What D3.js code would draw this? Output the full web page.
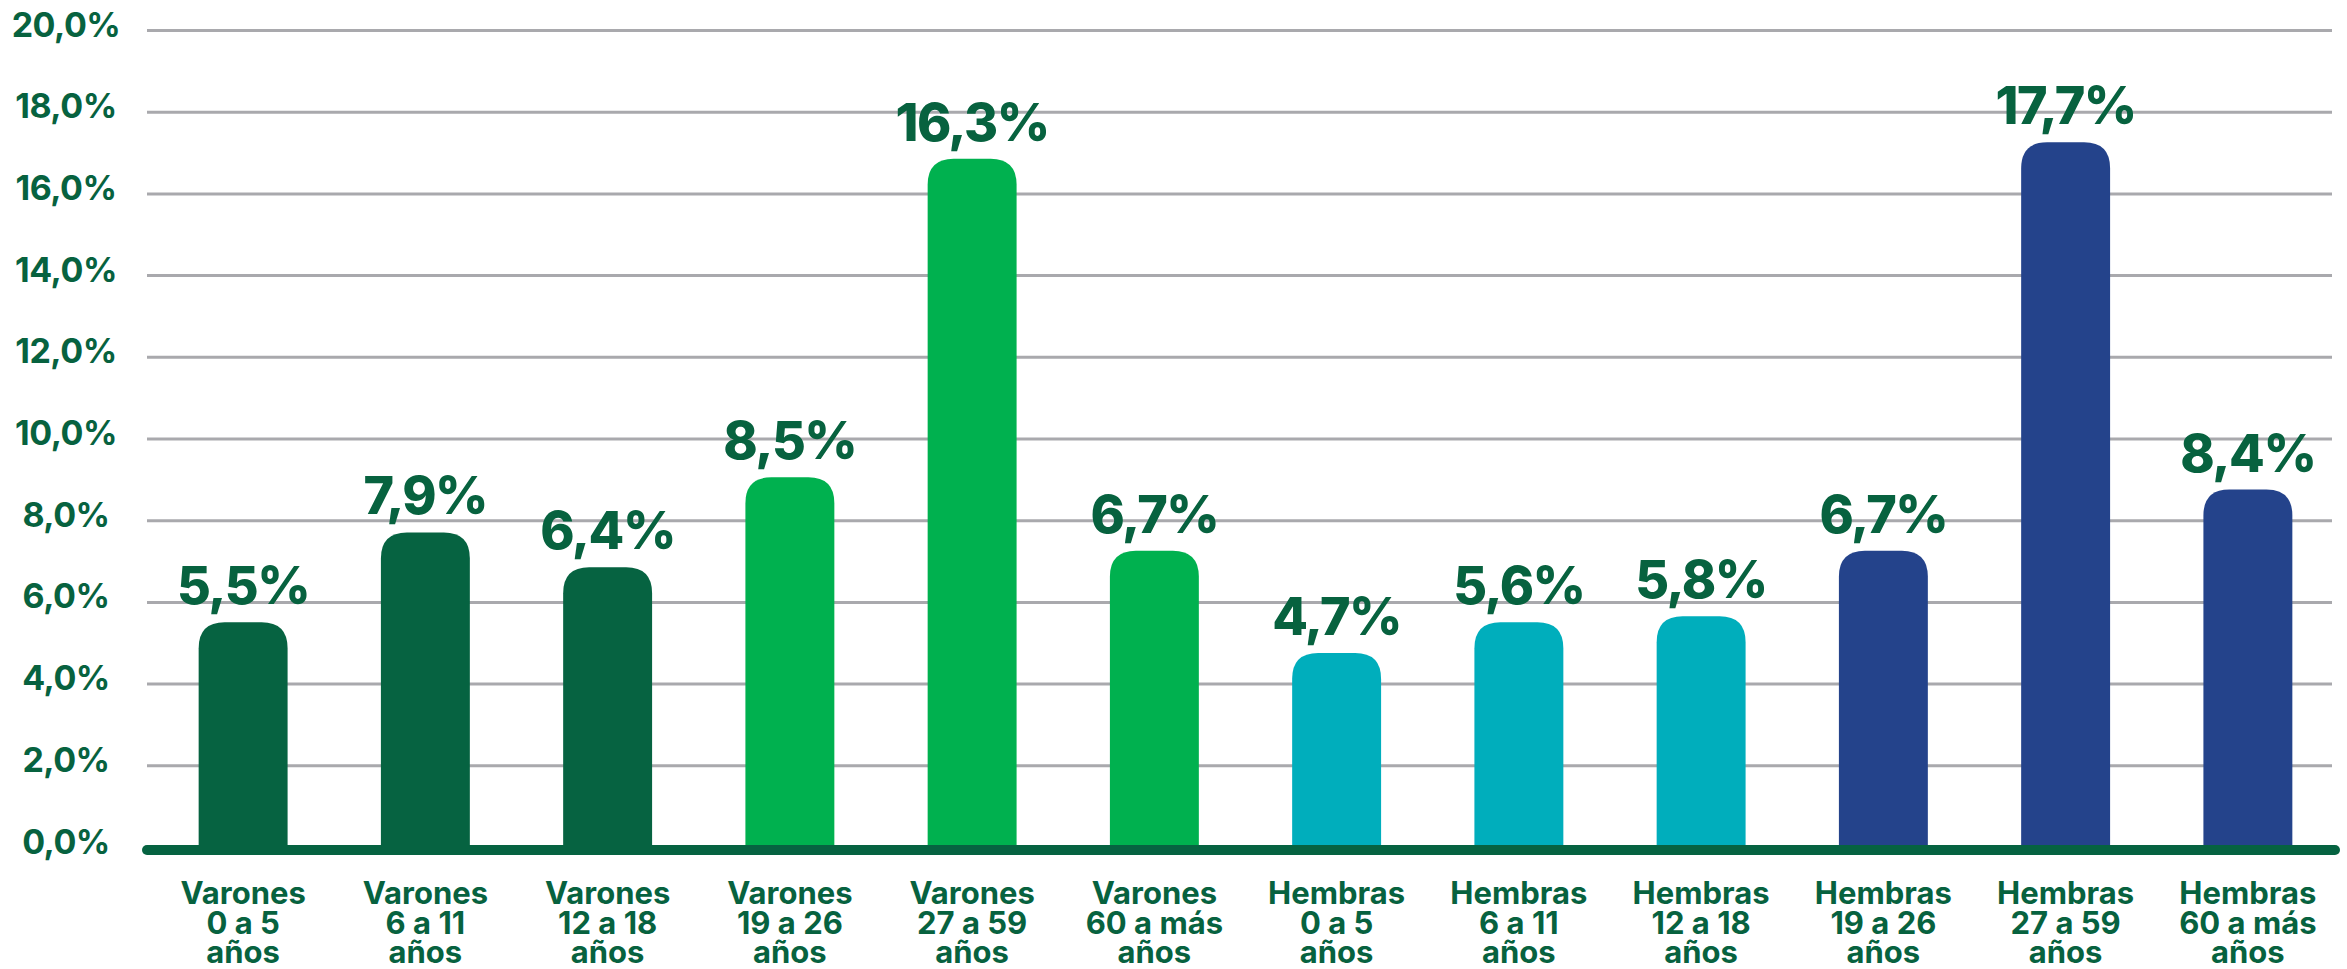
<!DOCTYPE html>
<html>
<head>
<meta charset="utf-8">
<script src="https://cdn.jsdelivr.net/npm/d3@7"></script>
<style>
  html, body { margin: 0; padding: 0; background: #fff; }
  svg { display: block; }
  text { font-family: Inter, "Open Sans", sans-serif; fill: #07623f; }
</style>
</head>
<body>
<svg width="2347" height="969"></svg>
<script>
// categorias (3 lineas cada una)
var categories = [
  ["Varones", "0 a 5", "años"],
  ["Varones", "6 a 11", "años"],
  ["Varones", "12 a 18", "años"],
  ["Varones", "19 a 26", "años"],
  ["Varones", "27 a 59", "años"],
  ["Varones", "60 a más", "años"],
  ["Hembras", "0 a 5", "años"],
  ["Hembras", "6 a 11", "años"],
  ["Hembras", "12 a 18", "años"],
  ["Hembras", "19 a 26", "años"],
  ["Hembras", "27 a 59", "años"],
  ["Hembras", "60 a más", "años"]
];
// altura de cada barra tal como esta dibujada
var barValues = [5.5, 7.7, 6.85, 9.05, 16.85, 7.25, 4.75, 5.5, 5.65, 7.25, 17.25, 8.75];
// etiquetas impresas encima de las barras
var labelValues = [5.5, 7.9, 6.4, 8.5, 16.3, 6.7, 4.7, 5.6, 5.8, 6.7, 17.7, 8.4];
var groups = ["v1", "v1", "v1", "v2", "v2", "v2", "h1", "h1", "h1", "h2", "h2", "h2"];
var groupColors = ["#066341", "#00b14f", "#00aebc", "#24438b"];
var yTicks = [0, 2, 4, 6, 8, 10, 12, 14, 16, 18, 20];

var svg = d3.select("svg");
var gLeft = 147, gRight = 2332, gTop = 30, gBase = 847;

var es = d3.formatLocale({decimal: ",", thousands: ".", grouping: [3], currency: ["", "€"]});
var fmt = es.format(".1f");

var x = d3.scaleBand()
  .domain(d3.range(categories.length))
  .range([152, 2339])
  .paddingInner(0.512)
  .paddingOuter(0.256);

var y = d3.scaleLinear().domain([0, 20]).range([gBase, gTop]);

var color = d3.scaleOrdinal().domain(["v1", "v2", "h1", "h2"]).range(groupColors);

// lineas de cuadricula + etiquetas del eje
var yAxis = svg.append("g")
  .attr("transform", "translate(" + gLeft + ",0)")
  .call(d3.axisLeft(y).tickValues(yTicks).tickSize(-(gRight - gLeft)).tickFormat(function(d){ return fmt(d) + "%"; }));
yAxis.select(".domain").remove();
yAxis.selectAll(".tick line")
  .attr("stroke", "#a9a9ad")
  .attr("stroke-width", 3);
yAxis.selectAll(".tick text")
  .attr("x", 66 - gLeft)
  .attr("dy", null)
  .attr("y", 6)
  .attr("text-anchor", "middle")
  .style("font-size", "34px")
  .style("font-weight", 700)
  .style("letter-spacing", "-0.5px")
  .style("fill", "#07623f");

// barra con esquinas superiores redondeadas
function roundTop(x0, y0, w, h, r) {
  r = Math.min(r, w / 2, h);
  return "M" + x0 + "," + (y0 + h)
    + "V" + (y0 + r)
    + "Q" + x0 + "," + y0 + " " + (x0 + r) + "," + y0
    + "H" + (x0 + w - r)
    + "Q" + (x0 + w) + "," + y0 + " " + (x0 + w) + "," + (y0 + r)
    + "V" + (y0 + h) + "Z";
}

svg.append("g").selectAll("path")
  .data(barValues)
  .enter().append("path")
  .attr("fill", function(d, i){ return color(groups[i]); })
  .attr("d", function(d, i){
    return roundTop(x(i), y(d), x.bandwidth(), gBase - y(d) + 3, 26);
  });

// eje x
svg.append("line")
  .attr("x1", gLeft).attr("x2", gRight + 3)
  .attr("y1", 850).attr("y2", 850)
  .attr("stroke", "#066341")
  .attr("stroke-width", 10)
  .attr("stroke-linecap", "round");

// etiquetas de valor
svg.append("g").selectAll("text")
  .data(labelValues)
  .enter().append("text")
  .attr("x", function(d, i){ return x(i) + x.bandwidth() / 2; })
  .attr("y", function(d, i){ return y(barValues[i]) - 18; })
  .attr("text-anchor", "middle")
  .style("font-size", "52px")
  .style("font-weight", 800)
  .style("letter-spacing", "-1.5px")
  .text(function(d){ return fmt(d) + "%"; });

// etiquetas de categoria
var cat = svg.append("g").selectAll("text")
  .data(categories)
  .enter().append("text")
  .attr("text-anchor", "middle")
  .attr("transform", function(d, i){ return "translate(" + (x(i) + x.bandwidth() / 2) + ",904)"; })
  .style("font-size", "31px")
  .style("font-weight", 700);

cat.selectAll("tspan")
  .data(function(d){ return d; })
  .enter().append("tspan")
  .attr("x", 0)
  .attr("y", function(d, j){ return j * 29.5; })
  .text(function(d){ return d; });
</script>
</body>
</html>
